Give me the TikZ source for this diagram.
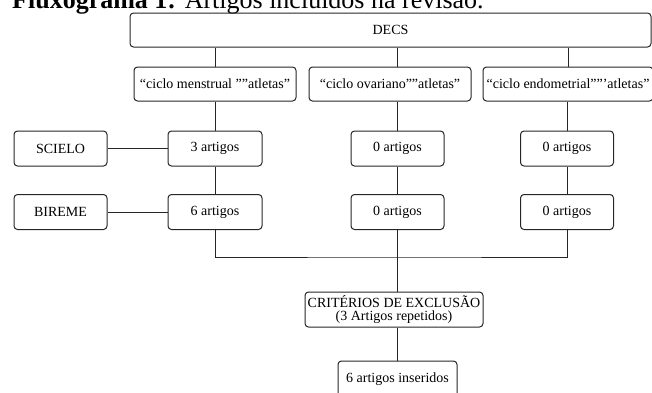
\documentclass[tikz,border=0pt]{standalone}
\usepackage{fontspec}
\setmainfont{Liberation Serif}
\begin{document}
\begin{tikzpicture}[x=1pt,y=-1pt,
  box/.style={draw=black!85, line width=1pt, rounded corners=3.5pt, inner sep=0pt, align=center, font=\fontsize{14}{12.5}\selectfont},
  link/.style={draw=black!85, line width=1pt}]
\path[use as bounding box, clip] (0,0) rectangle (652,392);
% title (cut off at top)
\node[anchor=base west, inner sep=0pt] (title) at (12,8) {\fontsize{26}{30}\selectfont\textbf{Fluxograma 1:} Artigos incluídos na revisão.};
% top
\node[box, minimum width=521pt, minimum height=34pt] (decs) at (390.5,30) {DECS};
% search strings
\node[box, minimum width=162pt, minimum height=34pt] (c1) at (215,84) {“ciclo menstrual ””atletas”};
\node[box, minimum width=162pt, minimum height=34pt] (c2) at (390,84) {“ciclo ovariano””atletas”};
\node[box, minimum width=170pt, minimum height=34pt] (c3) at (568,84) {“ciclo endometrial””’atletas”};
% databases
\node[box, minimum width=93pt, minimum height=35pt] (scielo) at (60.5,148.5) {SCIELO};
\node[box, minimum width=93pt, minimum height=35pt] (bireme) at (60.5,212) {BIREME};
% results
\node[box, minimum width=94pt, minimum height=35pt] (a1) at (215,148.5) {3 artigos};
\node[box, minimum width=93pt, minimum height=35pt] (a2) at (397.5,148.5) {0 artigos};
\node[box, minimum width=93pt, minimum height=35pt] (a3) at (567,148.5) {0 artigos};
\node[box, minimum width=94pt, minimum height=35pt] (b1) at (215,212) {6 artigos};
\node[box, minimum width=93pt, minimum height=35pt] (b2) at (397.5,212) {0 artigos};
\node[box, minimum width=93pt, minimum height=35pt] (b3) at (567,212) {0 artigos};
% exclusion
\node[box, minimum width=178pt, minimum height=35pt] (crit) at (394,309.5) {CRITÉRIOS DE EXCLUSÃO\\(3 Artigos repetidos)};
\node[box, minimum width=119pt, minimum height=36pt] (final) at (397.5,379) {6 artigos inseridos};
\coordinate (join) at (397.5,257);
% connectors
\draw[link] (decs.south -| c1) -- (c1.north);
\draw[link] (decs.south -| a2) -- (c2.north -| a2);
\draw[link] (decs.south -| c3) -- (c3.north);
\draw[link] (c1.south) -- (a1.north);
\draw[link] (c2.south -| a2) -- (a2.north);
\draw[link] (c3.south -| a3) -- (a3.north);
\draw[link] (a1.south) -- (b1.north);
\draw[link] (a2.south) -- (b2.north);
\draw[link] (a3.south) -- (b3.north);
\draw[link] (scielo.east) -- (a1.west);
\draw[link] (bireme.east) -- (b1.west);
\draw[link] (b1.south) |- (join) -| (b3.south);
\draw[link] (b2.south) -- (crit.north -| b2);
\draw[link] (crit.south -| b2) -- (final.north);
\end{tikzpicture}
\end{document}
